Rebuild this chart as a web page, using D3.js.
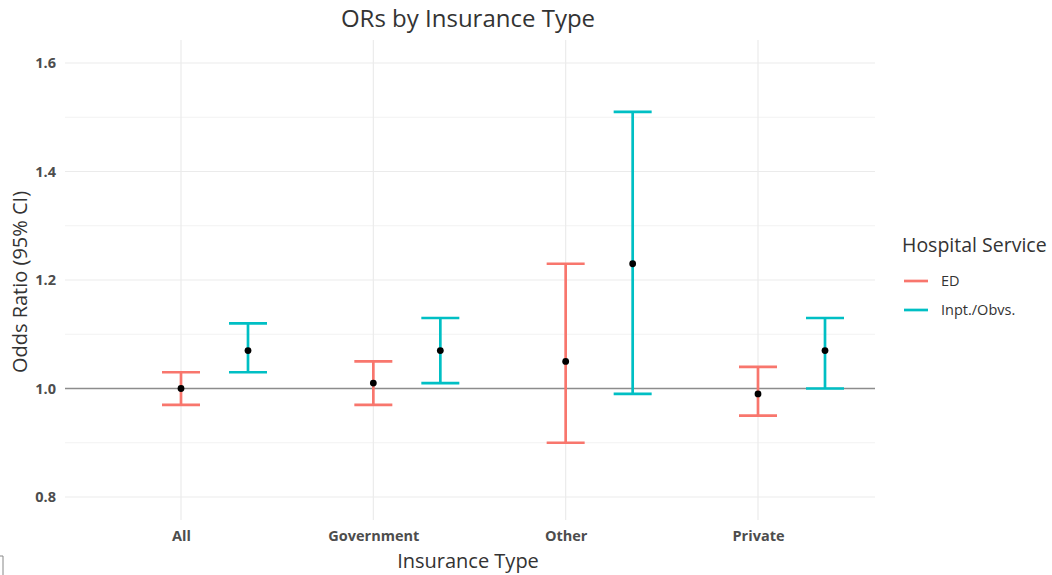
<!DOCTYPE html>
<html>
<head>
<meta charset="utf-8">
<script src="https://cdn.jsdelivr.net/npm/d3@7"></script>
<style>
  body { margin: 0; background: #fff; }
  text { font-family: "Open Sans", "Noto Sans", sans-serif; }
</style>
</head>
<body>
<svg id="chart" width="1052" height="575"></svg>
<script>
// Data
const categories = ['All', 'Government', 'Other', 'Private'];
const services = ['ED', 'Inpt./Obvs.'];
const edEstimate = [1.00, 1.01, 1.05, 0.99];
const edLower    = [0.97, 0.97, 0.90, 0.95];
const edUpper    = [1.03, 1.05, 1.23, 1.04];
const inptEstimate = [1.07, 1.07, 1.23, 1.07];
const inptLower    = [1.03, 1.01, 0.99, 1.00];
const inptUpper    = [1.12, 1.13, 1.51, 1.13];
const yTicks = [0.8, 1.0, 1.2, 1.4, 1.6];
const yMinor = [0.9, 1.1, 1.3, 1.5];

const colors = {'ED': '#F8766D', 'Inpt./Obvs.': '#00BFC4'};

const rows = [];
categories.forEach((c, i) => {
    rows.push({cat: c, service: 'ED', est: edEstimate[i], lo: edLower[i], hi: edUpper[i]});
    rows.push({cat: c, service: 'Inpt./Obvs.', est: inptEstimate[i], lo: inptLower[i], hi: inptUpper[i]});
});

const svg = d3.select('#chart');

const panel = {left: 65, right: 875, top: 40, bottom: 520};

const x = d3.scalePoint()
    .domain(categories)
    .range([181, 758]);
const dodge = d3.scalePoint()
    .domain(services)
    .range([0, 67]);

const y = d3.scaleLinear()
    .domain([0.8, 1.6])
    .range([497, 63]);

// grid
const grid = svg.append('g');
grid.selectAll('.minor')
    .data(yMinor)
    .enter().append('line')
    .attr('x1', panel.left).attr('x2', panel.right)
    .attr('y1', d => y(d)).attr('y2', d => y(d))
    .attr('stroke', '#f2f2f2').attr('stroke-width', 1);
grid.selectAll('.major')
    .data(yTicks)
    .enter().append('line')
    .attr('x1', panel.left).attr('x2', panel.right)
    .attr('y1', d => y(d)).attr('y2', d => y(d))
    .attr('stroke', '#ebebeb').attr('stroke-width', 1.2);
grid.selectAll('.vgrid')
    .data(categories)
    .enter().append('line')
    .attr('x1', d => x(d)).attr('x2', d => x(d))
    .attr('y1', panel.top).attr('y2', panel.bottom)
    .attr('stroke', '#ebebeb').attr('stroke-width', 1.2);

// reference line at 1
svg.append('line')
    .attr('x1', panel.left).attr('x2', panel.right)
    .attr('y1', y(1)).attr('y2', y(1))
    .attr('stroke', '#8c8c8c').attr('stroke-width', 1.3);

// axes
const yAxis = svg.append('g')
    .attr('transform', `translate(${panel.left - 6},0)`)
    .call(d3.axisLeft(y).tickValues(yTicks).tickFormat(d3.format('.1f')).tickSize(0));
yAxis.select('.domain').remove();
yAxis.selectAll('text')
    .attr('fill', '#4d4d4d')
    .style('font-size', '14.5px')
    .style('font-weight', 'bold');

const xAxis = svg.append('g')
    .attr('transform', `translate(0,${panel.bottom + 8})`)
    .call(d3.axisBottom(x).tickSize(0));
xAxis.select('.domain').remove();
xAxis.selectAll('text')
    .attr('fill', '#4d4d4d')
    .style('font-size', '14.5px')
    .style('font-weight', 'bold');

// error bars
const capHalf = 19;
const bars = svg.append('g').selectAll('g')
    .data(rows)
    .enter().append('g')
    .attr('stroke', d => colors[d.service])
    .attr('stroke-width', 2.7);
bars.append('line')
    .attr('x1', d => x(d.cat) + dodge(d.service))
    .attr('x2', d => x(d.cat) + dodge(d.service))
    .attr('y1', d => y(d.lo)).attr('y2', d => y(d.hi));
bars.append('line')
    .attr('x1', d => x(d.cat) + dodge(d.service) - capHalf)
    .attr('x2', d => x(d.cat) + dodge(d.service) + capHalf)
    .attr('y1', d => y(d.hi)).attr('y2', d => y(d.hi));
bars.append('line')
    .attr('x1', d => x(d.cat) + dodge(d.service) - capHalf)
    .attr('x2', d => x(d.cat) + dodge(d.service) + capHalf)
    .attr('y1', d => y(d.lo)).attr('y2', d => y(d.lo));

// points
svg.append('g').selectAll('circle')
    .data(rows)
    .enter().append('circle')
    .attr('cx', d => x(d.cat) + dodge(d.service))
    .attr('cy', d => y(d.est))
    .attr('r', 3.4)
    .attr('fill', '#000');

// titles
svg.append('text')
    .attr('x', 468).attr('y', 27)
    .attr('text-anchor', 'middle')
    .attr('fill', '#333')
    .style('font-size', '24px')
    .text('ORs by Insurance Type');

svg.append('text')
    .attr('x', 468).attr('y', 568)
    .attr('text-anchor', 'middle')
    .attr('fill', '#333')
    .style('font-size', '20px')
    .text('Insurance Type');

svg.append('text')
    .attr('transform', 'translate(27,282) rotate(-90)')
    .attr('text-anchor', 'middle')
    .attr('fill', '#333')
    .style('font-size', '20px')
    .text('Odds Ratio (95% CI)');

// legend
const legend = svg.append('g').attr('transform', 'translate(902,252)');
legend.append('text')
    .attr('x', 0).attr('y', 0)
    .attr('fill', '#333')
    .style('font-size', '19.5px')
    .text('Hospital Service');
const items = legend.selectAll('.item')
    .data(services)
    .enter().append('g')
    .attr('transform', (d, i) => `translate(0,${29 + i * 29})`);
items.append('line')
    .attr('x1', 2).attr('x2', 26)
    .attr('y1', 0).attr('y2', 0)
    .attr('stroke', d => colors[d])
    .attr('stroke-width', 2.7);
items.append('text')
    .attr('x', 39).attr('y', 5)
    .attr('fill', '#333')
    .style('font-size', '14.5px')
    .text(d => d);

// small bracket artifact bottom left
svg.append('path')
    .attr('d', 'M0,556 H3 V575')
    .attr('fill', 'none')
    .attr('stroke', '#888')
    .attr('stroke-width', 1);
</script>
</body>
</html>
